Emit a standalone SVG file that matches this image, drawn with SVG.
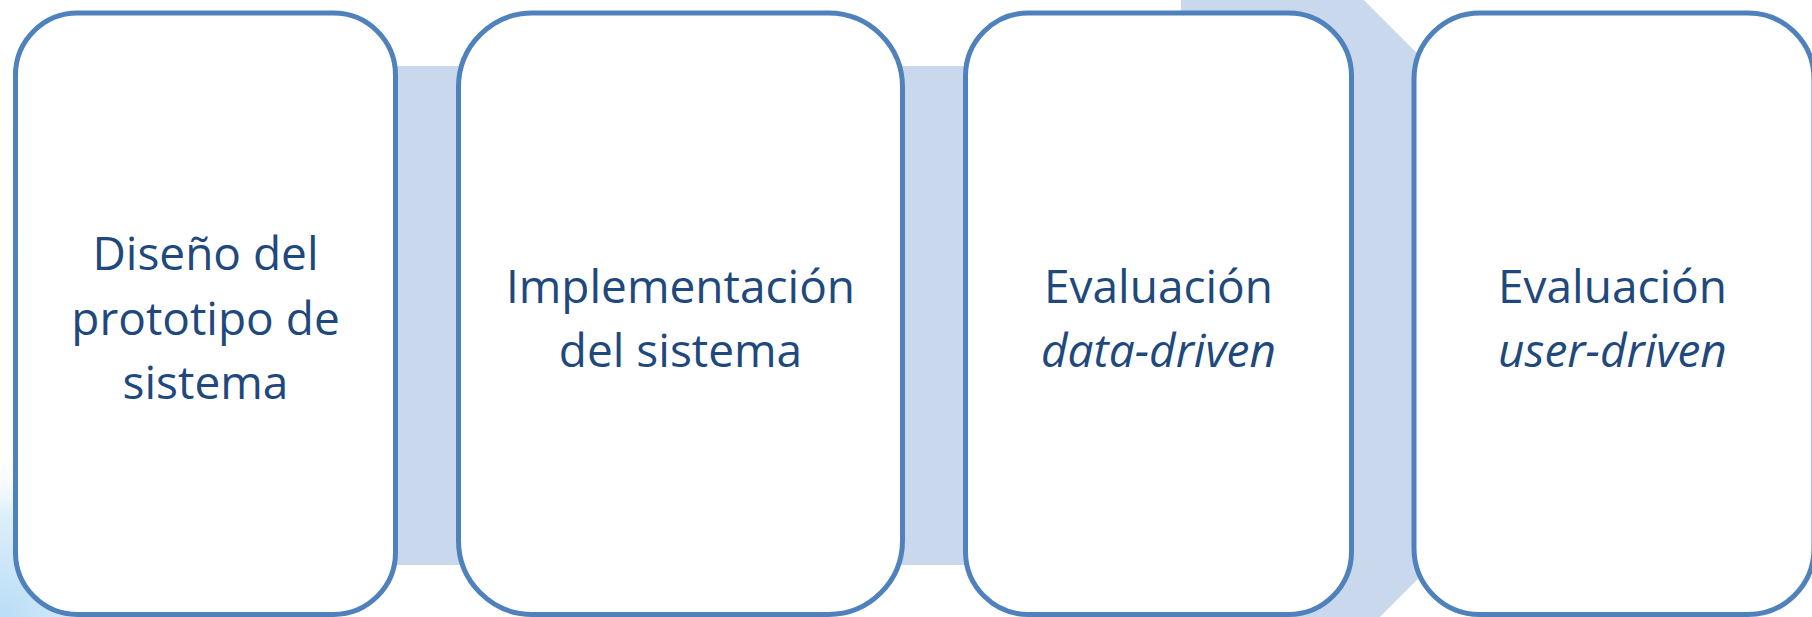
<svg xmlns="http://www.w3.org/2000/svg" width="1812" height="617" viewBox="0 0 1812 617">
<style>
.box{fill:#FFFFFF;stroke:#4F81BD;stroke-width:5}
.lbl{font-family:"Open Sans","Noto Sans","Liberation Sans",sans-serif;font-size:46px;fill:#1F497D;text-anchor:middle}
.it{font-style:italic}
.band{fill:#C9D8EC}
</style>
<defs>
<radialGradient id="glow" cx="0" cy="617" r="170" gradientUnits="userSpaceOnUse">
<stop offset="0" stop-color="#B9DDF5"/>
<stop offset="0.6" stop-color="#DDEFFB"/>
<stop offset="1" stop-color="#FFFFFF" stop-opacity="0"/>
</radialGradient>
</defs>
<rect width="1812" height="617" fill="#FFFFFF"/>
<rect x="0" y="420" width="200" height="197" fill="url(#glow)"/>
<g id="connectors">
<path class="band" d="M100,66 H1181 V-183 L1680,316.5 L1181,816 V565 H100 Z"/>
</g>
<g id="node1">
<rect class="box" x="15.5" y="13" width="380" height="601.5" rx="62" ry="62"/>
<text class="lbl" x="205.5" y="270">Diseño del</text>
<text class="lbl" x="205.5" y="334.5">prototipo de</text>
<text class="lbl" x="205.5" y="399">sistema</text>
</g>
<g id="node2">
<rect class="box" x="458.5" y="13" width="444" height="601.5" rx="74" ry="74"/>
<text class="lbl" x="680.5" y="302.5">Implementación</text>
<text class="lbl" x="680.5" y="367">del sistema</text>
</g>
<g id="node3">
<rect class="box" x="965.5" y="13" width="386" height="601.5" rx="63" ry="63"/>
<text class="lbl" x="1158.5" y="302.5">Evaluación</text>
<text class="lbl it" x="1158.5" y="367">data-driven</text>
</g>
<g id="node4">
<rect class="box" x="1414" y="13" width="400" height="601.5" rx="66" ry="66"/>
<text class="lbl" x="1612.5" y="302.5">Evaluación</text>
<text class="lbl it" x="1612.5" y="367">user-driven</text>
</g>
</svg>
